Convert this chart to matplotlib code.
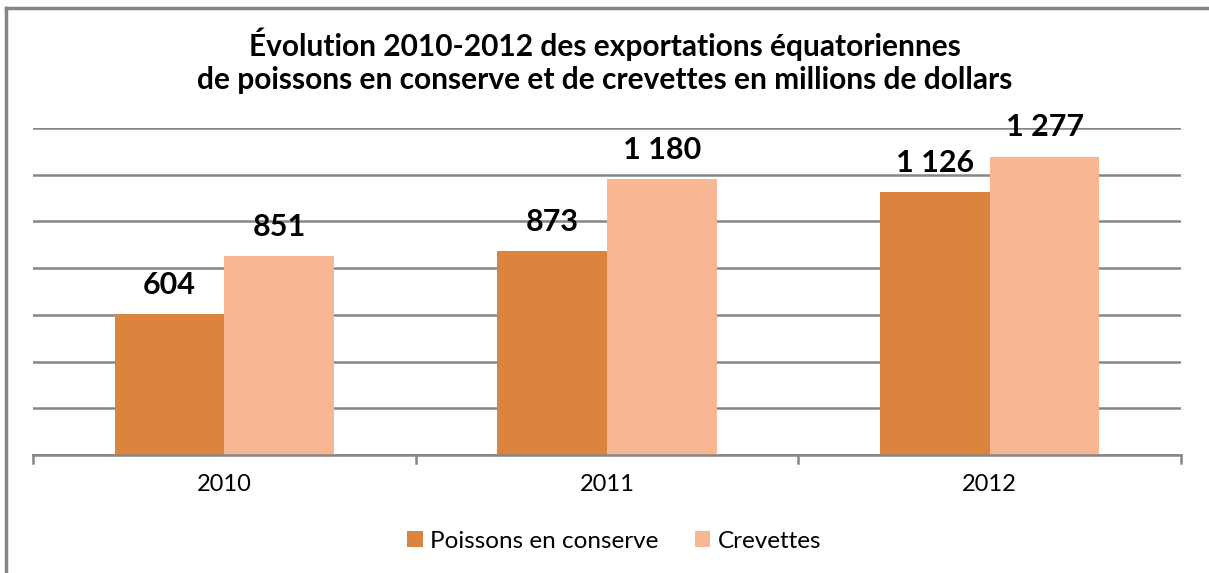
import matplotlib
matplotlib.use("Agg")
import matplotlib.pyplot as plt
from matplotlib.lines import Line2D
import numpy as np

years = ["2010", "2011", "2012"]
poissons = [604, 873, 1126]
crevettes = [851, 1180, 1277]
series_names = ["Poissons en conserve", "Crevettes"]
title = "Évolution 2010-2012 des exportations équatoriennes\nde poissons en conserve et de crevettes en millions de dollars"

c_orange = "#DB843D"
c_peach = "#F8B793"
grid_c = "#868686"

plt.rcParams['font.family'] = ['Lato', 'DejaVu Sans']

fig = plt.figure(figsize=(12.09, 5.73), dpi=100)
ax = fig.add_axes([33/1209, 1-455/573, (1181-33)/1209, (455-128)/573])

x = np.arange(len(years))
w = 0.287
b1 = ax.bar(x - w/2, poissons, w, color=c_orange, label=series_names[0], zorder=3)
b2 = ax.bar(x + w/2, crevettes, w, color=c_peach, label=series_names[1], zorder=3)

def fmt(v):
    return f"{v:,}".replace(",", " ")

for bars, vals in ((b1, poissons), (b2, crevettes)):
    for r, v in zip(bars, vals):
        ax.annotate(fmt(v), (r.get_x() + r.get_width()/2, v), xytext=(0, 11),
                    textcoords="offset points", ha="center", va="bottom",
                    fontsize=22, fontweight="bold", color="black")

ax.set_xlim(-0.5, len(years) - 0.5)
ax.set_ylim(0, 1400)
ax.set_yticks(np.arange(0, 1401, 200))
ax.yaxis.grid(True, color=grid_c, linewidth=1.8, zorder=0)
ax.tick_params(axis="y", left=False, labelleft=False)
for s in ("top", "right", "left"):
    ax.spines[s].set_visible(False)
ax.spines["bottom"].set_color(grid_c)
ax.spines["bottom"].set_linewidth(1.8)
ax.spines["bottom"].set_zorder(4)

ax.set_xticks(x)
ax.set_xticklabels(years, fontsize=17)
ax.tick_params(axis="x", length=0, pad=14)
# category separator ticks
for t in np.arange(-0.5, len(years), 1.0):
    ax.plot([t, t], [0, -0.025], transform=ax.get_xaxis_transform(), color=grid_c,
            linewidth=1.8, clip_on=False)

fig.text(0.5, 1 - 61/573, title, ha="center", va="center", fontsize=21.5,
         fontweight="bold", linespacing=1.2)

leg = fig.legend(handles=[b1, b2], labels=series_names, loc="center",
                 bbox_to_anchor=(614/1209, 1 - 541/573), ncol=2, frameon=False,
                 fontsize=17.5, handlelength=0.65, handleheight=0.65,
                 handletextpad=0.3, columnspacing=1.5)

# outer frame (top and left visible)
fig.add_artist(Line2D([6/1209, 1.0], [1 - 8/573, 1 - 8/573], transform=fig.transFigure,
                      color=grid_c, linewidth=2.5))
fig.add_artist(Line2D([6/1209, 6/1209], [0, 1 - 8/573], transform=fig.transFigure,
                      color=grid_c, linewidth=2.5))

fig.savefig("out.png", dpi=100)
